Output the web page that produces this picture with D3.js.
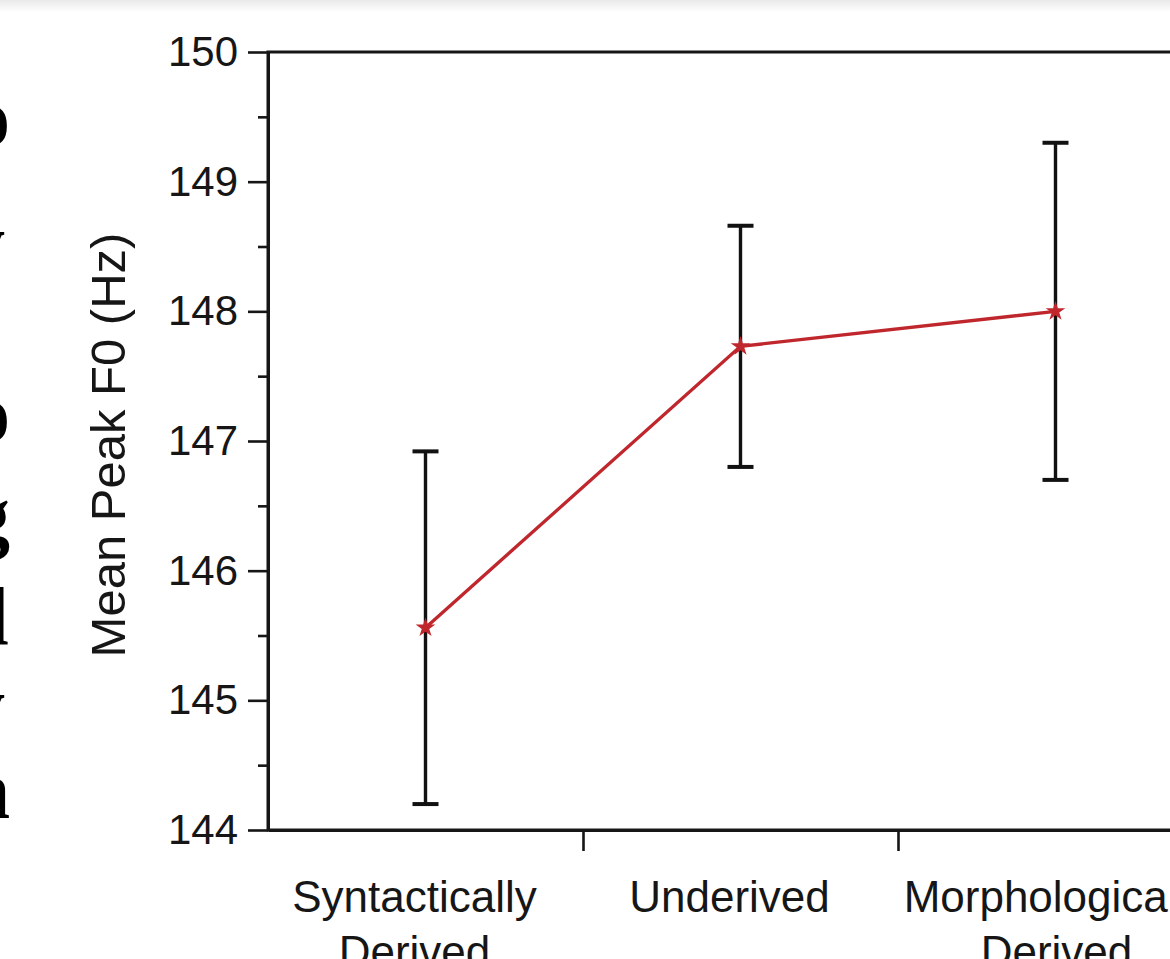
<!DOCTYPE html>
<html>
<head>
<meta charset="utf-8">
<script src="https://cdn.jsdelivr.net/npm/d3@7"></script>
<style>
html, body { margin: 0; padding: 0; background: #fff; overflow: hidden; }
svg { display: block; }
</style>
</head>
<body>
<div id="chart"></div>
<script>
// data
var categories = ['Syntactically Derived', 'Underived', 'Morphologically Derived'];
var categoryLines = [['Syntactically', 'Derived'], ['Underived'], ['Morphologically', 'Derived']];
var meanF0 = [145.56, 147.73, 148.00];
var errF0 = [1.36, 0.93, 1.30];
var yTicks = [144, 145, 146, 147, 148, 149, 150];
var yMinorTicks = [144.5, 145.5, 146.5, 147.5, 148.5, 149.5];
var yLabel = 'Mean Peak F0 (Hz)';
// clipped letters of the neighbouring text column
var sideLetters = ['o', 'y', 'o', 'g', 'l', 'y', 'n'];

var W = 1170, H = 959;
var frame = { left: 268, right: 1213, top: 52, bottom: 830 };
var sans = "'Liberation Sans', Arial, Helvetica, sans-serif";
var ink = '#161616';
var red = '#c0272d';

var svg = d3.select('#chart').append('svg')
	.attr('width', W)
	.attr('height', H);

// faint grey band along the top edge
var grad = svg.append('defs').append('linearGradient')
	.attr('id', 'topfade').attr('x1', 0).attr('x2', 0).attr('y1', 0).attr('y2', 1);
grad.append('stop').attr('offset', '0%').attr('stop-color', '#e9e9e9');
grad.append('stop').attr('offset', '100%').attr('stop-color', '#ffffff');
svg.append('rect').attr('x', 0).attr('y', 0).attr('width', W).attr('height', 12).attr('fill', 'url(#topfade)');

drawSideText();

var x = d3.scaleBand().domain(categories).range([frame.left, frame.right]).padding(0);
var xEdge = d3.scaleLinear().domain([0, categories.length]).range([frame.left, frame.right]);
var y = d3.scaleLinear().domain([144, 150]).range([frame.bottom, frame.top]);

function cx(i) {
	return x(categories[i]) + x.bandwidth() / 2;
}

// box around the plot
svg.append('rect')
	.attr('x', frame.left).attr('y', frame.top)
	.attr('width', frame.right - frame.left).attr('height', frame.bottom - frame.top)
	.attr('fill', 'none').attr('stroke', ink).attr('stroke-width', 3);

// y axis, major and minor ticks
var yAxis = svg.append('g')
	.attr('transform', 'translate(' + frame.left + ',0)')
	.call(d3.axisLeft(y).tickValues(yTicks).tickSize(20).tickSizeOuter(0).tickPadding(10).tickFormat(d3.format('d')));
svg.append('g')
	.attr('transform', 'translate(' + frame.left + ',0)')
	.call(d3.axisLeft(y).tickValues(yMinorTicks).tickSize(10).tickSizeOuter(0).tickFormat(''));

// x axis: ticks sit between the categories
svg.append('g')
	.attr('transform', 'translate(0,' + frame.bottom + ')')
	.call(d3.axisBottom(xEdge).tickValues(d3.range(1, categories.length)).tickSize(21).tickSizeOuter(0).tickFormat(''));

svg.selectAll('.domain').attr('stroke', ink).attr('stroke-width', 3);
svg.selectAll('.tick line').attr('stroke', ink).attr('stroke-width', 2.6);
yAxis.selectAll('.tick text')
	.attr('font-family', sans).attr('font-size', 42).attr('fill', ink);

// axis title
svg.append('text')
	.attr('transform', 'translate(125,' + ((frame.top + frame.bottom) / 2 + 4) + ') rotate(-90)')
	.attr('text-anchor', 'middle')
	.attr('font-family', sans).attr('font-size', 49).attr('fill', ink)
	.text(yLabel);

// category labels (the first two sit a little left of their band centre)
var labelNudge = [-11, -11, 1];
var catText = svg.append('g').selectAll('text')
	.data(categoryLines)
	.join('text')
	.attr('text-anchor', 'middle')
	.attr('font-family', sans).attr('font-size', 44).attr('fill', ink)
	.attr('x', function (d, i) { return cx(i) + labelNudge[i]; })
	.attr('y', 912);
catText.selectAll('tspan')
	.data(function (d) { return d; })
	.join('tspan')
	.attr('x', function () { return d3.select(this.parentNode).attr('x'); })
	.attr('dy', function (d, j) { return j === 0 ? 0 : 55; })
	.text(function (d) { return d; });

// error bars
var bars = svg.append('g').selectAll('g')
	.data(meanF0)
	.join('g')
	.attr('stroke', '#111')
	.attr('stroke-width', 3.4);
bars.append('line')
	.attr('x1', function (d, i) { return cx(i); })
	.attr('x2', function (d, i) { return cx(i); })
	.attr('y1', function (d, i) { return y(d + errF0[i]); })
	.attr('y2', function (d, i) { return y(d - errF0[i]); });
bars.append('line')
	.attr('stroke-width', 4)
	.attr('x1', function (d, i) { return cx(i) - 13; })
	.attr('x2', function (d, i) { return cx(i) + 13; })
	.attr('y1', function (d, i) { return y(d + errF0[i]); })
	.attr('y2', function (d, i) { return y(d + errF0[i]); });
bars.append('line')
	.attr('stroke-width', 4)
	.attr('x1', function (d, i) { return cx(i) - 13; })
	.attr('x2', function (d, i) { return cx(i) + 13; })
	.attr('y1', function (d, i) { return y(d - errF0[i]); })
	.attr('y2', function (d, i) { return y(d - errF0[i]); });

// mean line and markers
var line = d3.line()
	.x(function (d, i) { return cx(i); })
	.y(function (d) { return y(d); });
svg.append('path')
	.datum(meanF0)
	.attr('d', line)
	.attr('fill', 'none')
	.attr('stroke', red)
	.attr('stroke-width', 3.3);
svg.append('g').selectAll('path')
	.data(meanF0)
	.join('path')
	.attr('transform', function (d, i) { return 'translate(' + cx(i) + ',' + y(d) + ')'; })
	.attr('d', d3.symbol(d3.symbolStar).size(120))
	.attr('fill', red);

function drawSideText() {
	// baseline and right edge of each clipped glyph
	var place = [[145, 10], [270, 5], [441, 10], [543, 10], [644, 9], [733, 5], [818, 10]];
	svg.append('g').selectAll('text')
		.data(sideLetters)
		.join('text')
		.attr('text-anchor', 'end')
		.attr('font-family', "'Liberation Serif', 'Times New Roman', serif")
		.attr('font-weight', 'bold')
		.attr('font-size', 82)
		.attr('fill', '#000')
		.attr('x', function (d, i) { return place[i][1]; })
		.attr('y', function (d, i) { return place[i][0]; })
		.text(function (d) { return d; });
}
</script>
</body>
</html>
